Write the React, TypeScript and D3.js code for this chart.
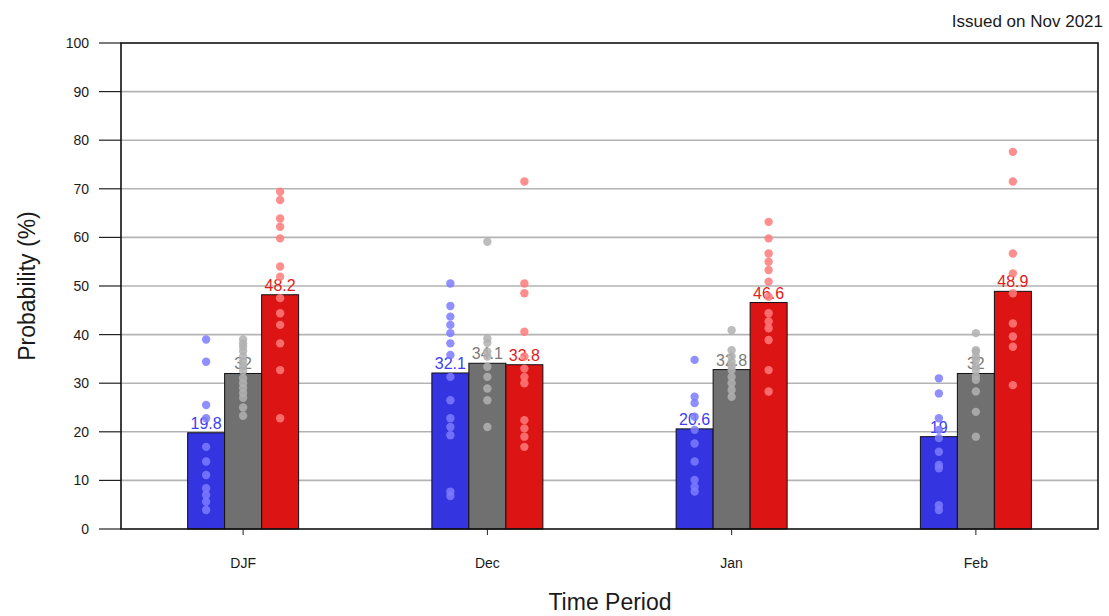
import React from "react";
import * as d3 from "d3";

const categories = ["DJF", "Dec", "Jan", "Feb"];
const seriesNames = ["below", "normal", "above"];
const belowValues = [19.8, 32.1, 20.6, 19];
const normalValues = [32, 34.1, 32.8, 32];
const aboveValues = [48.2, 33.8, 46.6, 48.9];
const belowLabels = ["19.8", "32.1", "20.6", "19"];
const normalLabels = ["32", "34.1", "32.8", "32"];
const aboveLabels = ["48.2", "33.8", "46.6", "48.9"];

const belowModels = [
  [39, 34.4, 25.5, 22.8, 16.9, 13.9, 11.1, 8.4, 7.0, 5.6, 3.9],
  [50.5, 45.9, 43.7, 42, 40.3, 38.2, 35.8, 31.3, 26.5, 22.8, 21, 19.3, 7.7, 6.8],
  [34.8, 27.2, 25.9, 23.1, 20.4, 17.6, 13.9, 10.1, 8.7, 7.7],
  [31, 27.9, 22.8, 20.4, 18.7, 15.9, 13.2, 12.5, 4.9, 3.9],
];
const normalModels = [
  [39, 38.2, 37.5, 36.6, 35.5, 34.5, 33.5, 32.5, 31, 30, 29, 28, 27, 25, 23.3],
  [59.1, 39.2, 38.3, 36.5, 35.5, 33.4, 31.3, 28.9, 26.5, 21],
  [40.9, 36.8, 35.5, 34.4, 33.5, 32.7, 31.3, 30, 28.6, 27.2],
  [40.3, 36.8, 36.5, 35.5, 34.8, 33.5, 32.7, 31.5, 30.7, 28.3, 24.1, 19],
];
const aboveModels = [
  [69.4, 67.7, 63.9, 62.2, 59.8, 54, 51.9, 47.5, 44.4, 42, 38.2, 32.7, 22.8],
  [71.5, 50.5, 48.5, 40.6, 35.5, 33, 31.3, 30, 22.4, 20.7, 19, 16.9],
  [63.2, 59.8, 56.7, 55, 53.3, 50.9, 47.8, 44.4, 42.7, 41.3, 38.9, 32.7, 28.3],
  [77.6, 71.5, 56.7, 52.6, 48.5, 42.3, 39.6, 37.5, 29.6],
];
const yTicks = [0, 10, 20, 30, 40, 50, 60, 70, 80, 90, 100];

const barColors = ["#3434e0", "#707070", "#dc1414"];
const labelColors = ["#4040f0", "#7a7a7a", "#e02020"];
const dotColors = ["#7b7bff", "#b0b0b0", "#ff7a7a"];

export default function App() {
  const W = 1109;
  const H = 616;
  const left = 121;
  const right = 1098;
  const top = 43;
  const bottom = 529;
  const x = d3.scaleBand<string>().domain(categories).range([left, right]).paddingInner(0).paddingOuter(0);
  const y = d3.scaleLinear().domain([0, 100]).range([bottom, top]);
  const barW = 37;
  const inner = d3
    .scaleBand<string>()
    .domain(seriesNames)
    .range([-barW * 1.5, barW * 1.5]);
  const values = [belowValues, normalValues, aboveValues];
  const labels = [belowLabels, normalLabels, aboveLabels];
  const models = [belowModels, normalModels, aboveModels];
  const font = "Liberation Sans, Arial, Helvetica, sans-serif";

  return (
    <svg width={W} height={H} style={{ position: "absolute", left: 0, top: 0 }} fontFamily={font}>
      <rect x={0} y={0} width={W} height={H} fill="#fff" />
      {yTicks.map((t) => (
        <g key={t}>
          {t > 0 && t < 100 && (
            <line x1={left} x2={right} y1={y(t)} y2={y(t)} stroke="#b3b3b3" strokeWidth={1.6} />
          )}
          <line x1={99} x2={left} y1={y(t)} y2={y(t)} stroke="#222" strokeWidth={1.2} />
          <text x={89} y={y(t)} dy="0.35em" textAnchor="end" fontSize={14} fill="#1a1a1a">
            {t}
          </text>
        </g>
      ))}
      {categories.map((c, ci) => {
        const cx = (x(c) as number) + x.bandwidth() / 2;
        return (
          <g key={c}>
            {seriesNames.map((s, si) => {
              const bx = cx + (inner(s) as number);
              return (
                <rect
                  key={s}
                  x={bx}
                  y={y(values[si][ci])}
                  width={inner.bandwidth()}
                  height={bottom - y(values[si][ci])}
                  fill={barColors[si]}
                  stroke="#111"
                  strokeWidth={1}
                />
              );
            })}
            {seriesNames.map((s, si) => {
              const bx = cx + (inner(s) as number) + inner.bandwidth() / 2;
              return (
                <text
                  key={s}
                  x={bx}
                  y={y(values[si][ci]) - 4}
                  textAnchor="middle"
                  fontSize={16}
                  fill={labelColors[si]}
                >
                  {labels[si][ci]}
                </text>
              );
            })}
            {seriesNames.map((s, si) => {
              const bx = cx + (inner(s) as number) + inner.bandwidth() / 2;
              return models[si][ci].map((v, k) => (
                <circle key={s + k} cx={bx} cy={y(v)} r={4.2} fill={dotColors[si]} opacity={0.85} />
              ));
            })}
            <line x1={cx} x2={cx} y1={bottom} y2={bottom + 6} stroke="#222" strokeWidth={1} />
            <text x={cx} y={bottom + 39} textAnchor="middle" fontSize={14} fill="#1a1a1a">
              {c}
            </text>
          </g>
        );
      })}
      <rect x={left} y={top} width={right - left} height={bottom - top} fill="none" stroke="#111" strokeWidth={1.6} />
      <text x={610} y={610} textAnchor="middle" fontSize={23} fill="#1a1a1a">
        Time Period
      </text>
      <text
        transform={`translate(35,${(top + bottom) / 2}) rotate(-90)`}
        textAnchor="middle"
        fontSize={23}
        fill="#1a1a1a"
      >
        Probability (%)
      </text>
      <text x={1103} y={27} textAnchor="end" fontSize={17} fill="#1a1a1a">
        Issued on Nov 2021
      </text>
    </svg>
  );
}
